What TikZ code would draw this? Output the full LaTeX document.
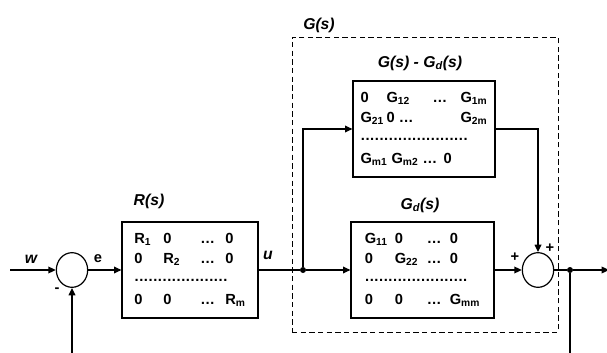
\documentclass[tikz,border=0pt]{standalone}
\usepackage{fontspec}
\setmainfont{Liberation Sans}
\usepackage{tikz}
\usetikzlibrary{arrows.meta,shapes.geometric}

\newcommand{\dotrow}[1]{\hbox to #1{\leaders\hbox to 3.5pt{\hss.\hss}\hfill}}

\begin{document}
\begin{tikzpicture}[
  x=0.75pt, y=-0.75pt,
  font=\fontsize{11}{15}\selectfont\bfseries,
  block/.style={draw, line width=0.9pt, inner sep=0pt, minimum height=72pt},
  sumpoint/.style={draw, ellipse, line width=0.9pt, minimum width=23.5pt, minimum height=26pt, inner sep=0pt},
  flow/.style={-{Triangle[length=5.5pt,width=5pt]}, line width=0.9pt},
  wire/.style={line width=0.9pt},
  dot/.style={circle, fill, inner sep=0pt, minimum size=4.5pt},
  tag/.style={font=\fontsize{11.8}{13}\selectfont\bfseries\itshape, inner sep=1pt}
]
\useasboundingbox (0,0) rectangle (607,353);

% frame of the plant
\node[draw, dash pattern=on 4pt off 2.5pt, line width=0.7pt, minimum width=199.5pt, minimum height=221.25pt] (plant) at (425,184.5) {};
\node[tag] (plantlbl) at (319,25) {G(s)};

% blocks
\node[sumpoint] (sum1) at (72,270) {};
\node[block, minimum width=102pt] (reg) at (190,270) {%
  \begin{tabular}{@{}p{21.75pt}@{}p{27.75pt}@{}p{18.75pt}@{}l@{}}
  R\textsubscript{1} & 0 & … & 0\\
  0 & R\textsubscript{2} & … & 0\\[-1.5pt]
  \multicolumn{4}{@{}l@{}}{\dotrow{73pt}}\\[2pt]
  0 & 0 & … & R\textsubscript{m}
  \end{tabular}};
\node[tag] (reglbl) at (149,201) {R(s)};

\node[block, minimum width=106.5pt] (coupl) at (424,129) {%
  \begin{tabular}{@{}p{19.5pt}@{}p{34.5pt}@{}p{21pt}@{}l@{}}
  0 & G\textsubscript{12} & … & G\textsubscript{1m}\\
  G\textsubscript{21} & 0 … & & G\textsubscript{2m}\\[-1.5pt]
  \multicolumn{4}{@{}l@{}}{\dotrow{83pt}}\\[2pt]
  \multicolumn{4}{@{}l@{}}{G\textsubscript{m1} G\textsubscript{m2} … \,0}
  \end{tabular}};
\node[tag] (coupllbl) at (420,63) {G(s) - G\textsubscript{d}(s)};

\node[block, minimum width=107.25pt] (diag) at (422.5,270) {%
  \begin{tabular}{@{}p{22.5pt}@{}p{24pt}@{}p{17.25pt}@{}l@{}}
  G\textsubscript{11} & 0 & … & 0\\
  0 & G\textsubscript{22} & … & 0\\[-1.5pt]
  \multicolumn{4}{@{}l@{}}{\dotrow{77pt}}\\[2pt]
  0 & 0 & … & G\textsubscript{mm}
  \end{tabular}};
\node[tag] (diaglbl) at (420,205) {G\textsubscript{d}(s)};

\node[sumpoint] (sum2) at (538,270) {};
\node[dot] (split) at (303,270) {};
\node[dot] (out) at (570,270) {};

% free ends
\coordinate (win) at (10,270);
\coordinate (fbin) at (72,355);
\coordinate (fbout) at (570,355);
\coordinate (yend) at (609,270);

% signals
\draw[flow] (win) -- (sum1);
\draw[flow] (sum1) -- (reg);
\draw[wire] (reg) -- (split);
\draw[flow] (split) -- (diag);
\draw[flow] (split) |- (coupl);
\draw[flow] (coupl.east) -| (sum2.north);
\draw[flow] (diag) -- (sum2);
\draw[wire] (sum2) -- (out);
\draw[flow] (out) -- (yend);
\draw[wire] (out) -- (fbout);
\draw[flow] (fbin) -- (sum1);

% signal names and signs
\node[tag] (wlbl) at (31,259) {w};
\node (elbl) at (98,259) {e};
\node[tag] (ulbl) at (268,255) {u};
\node (minus) at (57,290) {-};
\node (plusl) at (515,257) {+};
\node (plust) at (550,248) {+};
\end{tikzpicture}
\end{document}
